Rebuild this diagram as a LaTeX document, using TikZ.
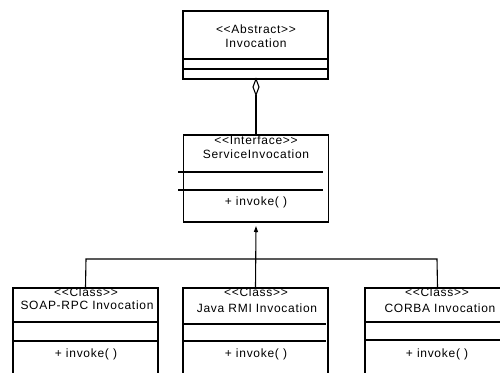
\documentclass[tikz,border=0pt]{standalone}
\usepackage{fontspec}
\newfontfamily\umlfont{Liberation Sans}[LetterSpace=6]
\usetikzlibrary{arrows.meta}
\tikzset{
  umlbox/.style={draw, line width=1.1pt, minimum width=145pt, inner sep=0pt},
  umltext/.style={inner sep=0pt, font=\umlfont\fontsize{12}{14}\selectfont},
  divider/.style={line width=1.1pt},
  link/.style={line width=1.1pt},
}
\begin{document}
\begin{tikzpicture}[x=1pt,y=-1pt]
\useasboundingbox (0,0) rectangle (500,372);
\clip (0,0) rectangle (500,372);

% abstract base class
\node[umlbox, minimum height=68pt] (abs) at (255.5,45) {};
\node[umltext] (absst) at (256,29) {<<Abstract>>};
\node[umltext] (absnm) at (256,43) {Invocation};
\draw[divider] (183,59) -- (328,59);
\draw[divider] (183,69) -- (328,69);

% interface
\node[umlbox, minimum height=87pt] (iface) at (256,178.5) {};
\node[umltext] (ifst) at (256,140) {<<Interface>>};
\node[umltext] (ifnm) at (256,154) {ServiceInvocation};
\node[umltext] (ifop) at (256,202) {+ invoke( )};
\draw[divider] (178,172) -- (323,172);
\draw[divider] (178,190) -- (323,190);

% aggregation diamond
\coordinate (dtop) at (256,79);
\coordinate (dbot) at (256,95);
\draw[link, fill=white] (dtop) -- (259,87) -- (dbot) -- (253,87) -- cycle;
\draw[link] (dbot) -- (iface.north);

% implementing classes
\node[umlbox, minimum height=112pt] (soap) at (85.5,344) {};
\node[umltext] (soapst) at (86,292) {<<Class>>};
\node[umltext] (soapnm) at (87,305) {SOAP-RPC Invocation};
\node[umltext] (soapop) at (86,354) {+ invoke( )};
\draw[divider] (13,322) -- (158,322);
\draw[divider] (13,341) -- (158,341);

\node[umlbox, minimum height=112pt] (java) at (255.5,344) {};
\node[umltext] (javast) at (256,292) {<<Class>>};
\node[umltext] (javanm) at (257,308) {Java RMI Invocation};
\node[umltext] (javaop) at (256,354) {+ invoke( )};
\draw[divider] (182,324) -- (326,324);
\draw[divider] (182,341) -- (326,341);

\node[umlbox, minimum height=112pt] (corba) at (437.5,344) {};
\node[umltext] (corbast) at (437,292) {<<Class>>};
\node[umltext] (corbanm) at (440,308) {CORBA Invocation};
\node[umltext] (corbaop) at (437,354) {+ invoke( )};
\draw[divider] (365,322) -- (510,322);
\draw[divider] (365,340) -- (510,340);

% realization connectors
\coordinate (busL) at (86,259);
\coordinate (busR) at (437,259);
\coordinate (tip) at (256,226);
\draw[link] (soap.north) -- (busL) -- (busR) -- (corba.north);
\draw[link, -{Triangle[width=4pt,length=6pt]}] (java.north) -- (tip);
\end{tikzpicture}
\end{document}
